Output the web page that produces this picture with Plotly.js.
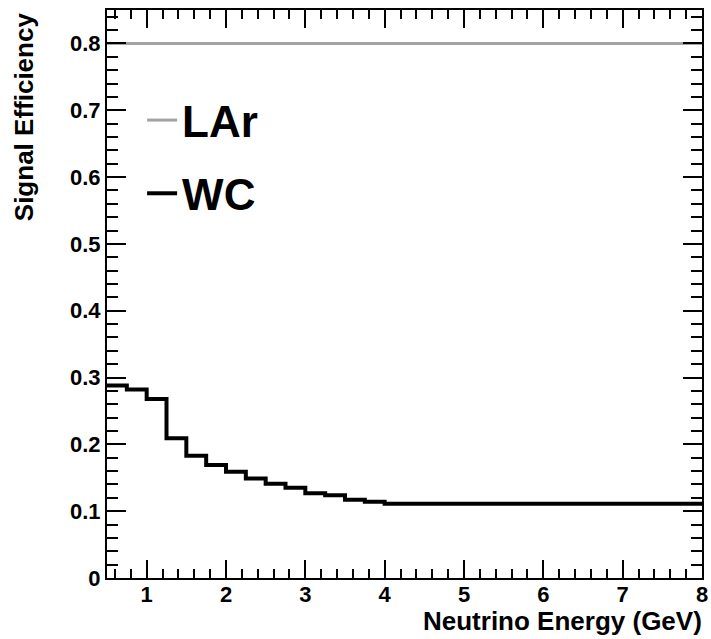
<!DOCTYPE html>
<html>
<head>
<meta charset="utf-8">
<script src="https://cdn.plot.ly/plotly-3.0.1.min.js"></script>
<style>html,body{margin:0;padding:0;background:#fff;}#chart{width:711px;height:639px;}</style>
</head>
<body>
<div id="chart"></div>
<script>
// Bin low edges (GeV) of the WC histogram and the upper edge of the last bin
var binLowEdges = [0.5, 0.75, 1.0, 1.25, 1.5, 1.75, 2.0, 2.25, 2.5, 2.75, 3.0, 3.25, 3.5, 3.75, 4.0];
var lastEdge = 8.0;
// WC signal efficiency per bin
var wcEff = [0.288, 0.282, 0.268, 0.209, 0.183, 0.169, 0.159, 0.149, 0.141, 0.135, 0.127, 0.124, 0.117, 0.114, 0.111];
// LAr signal efficiency (flat)
var larEnergy = [0.5, 8.0];
var larEff = [0.8, 0.8];
var xTickVals = [1, 2, 3, 4, 5, 6, 7, 8];
var yTickVals = [0, 0.1, 0.2, 0.3, 0.4, 0.5, 0.6, 0.7, 0.8];

var wcX = binLowEdges.concat([lastEdge]);
var wcY = wcEff.concat([wcEff[wcEff.length - 1]]);

var font = "Liberation Sans, Arial, Helvetica, sans-serif";

var traces = [
  {x: larEnergy, y: larEff, mode: 'lines', name: 'LAr', legendgroup: 'a', line: {color: '#a3a3a3', width: 3}},
  {x: wcX, y: wcY, mode: 'lines', name: 'WC', legendgroup: 'b', line: {color: '#000', width: 4, shape: 'hv'}}
];

var axisCommon = {
  showline: true, linecolor: '#000', linewidth: 2, mirror: 'allticks',
  ticks: 'inside', tickcolor: '#000', tickwidth: 2,
  showgrid: false, zeroline: false,
  tickfont: {family: font, size: 22, color: '#000', weight: 'bold'}
};

var layout = {
  width: 711, height: 639,
  margin: {l: 107, r: 9, t: 10, b: 61},
  paper_bgcolor: '#fff', plot_bgcolor: '#fff',
  showlegend: true,
  legend: {x: 0.059, y: 0.868, xanchor: 'left', yanchor: 'top', bgcolor: 'rgba(0,0,0,0)',
           traceorder: 'grouped', tracegroupgap: 13,
           font: {family: font, size: 44, color: '#000', weight: 'bold'}},
  xaxis: Object.assign({}, axisCommon, {
    range: [0.5, 8], tickvals: xTickVals, ticklen: 18, ticklabelstandoff: -4,
    minor: {dtick: 0.2, tick0: 0, ticklen: 9, ticks: 'inside', tickcolor: '#000', tickwidth: 2}
  }),
  yaxis: Object.assign({}, axisCommon, {
    range: [0, 0.85], tickvals: yTickVals, ticklen: 19,
    minor: {dtick: 0.02, tick0: 0, ticklen: 11, ticks: 'inside', tickcolor: '#000', tickwidth: 2}
  }),
  annotations: [
    {text: 'Neutrino Energy (GeV)', xref: 'paper', yref: 'paper', x: 1.004, y: -0.076,
     xanchor: 'right', yanchor: 'middle', showarrow: false,
     font: {family: font, size: 26, color: '#000', weight: 'bold'}},
    {text: 'Signal Efficiency', xref: 'paper', yref: 'paper', x: -0.14, y: 1.0,
     xanchor: 'center', yanchor: 'top', textangle: -90, showarrow: false,
     font: {family: font, size: 26, color: '#000', weight: 'bold'}}
  ]
};

Plotly.newPlot('chart', traces, layout, {displayModeBar: false, staticPlot: true});
</script>
</body>
</html>
